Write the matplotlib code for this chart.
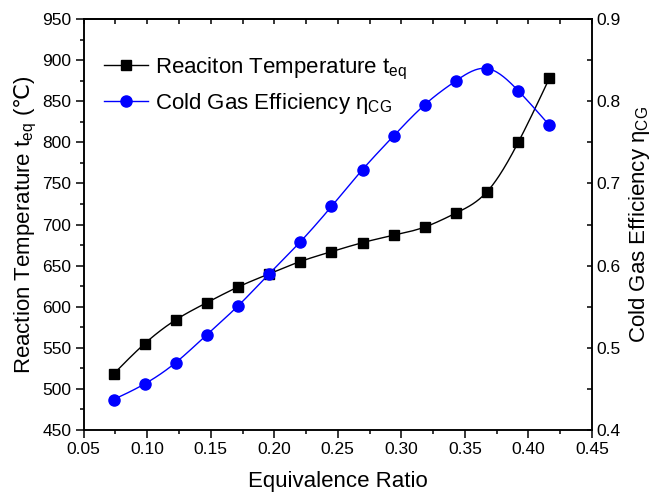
import numpy as np
import matplotlib
matplotlib.use('Agg')
import matplotlib.pyplot as plt
from matplotlib.ticker import MultipleLocator

plt.rcParams['font.family'] = ['Liberation Sans', 'DejaVu Sans']
plt.rcParams['mathtext.fontset'] = 'custom'
plt.rcParams['mathtext.rm'] = 'Liberation Sans'
plt.rcParams['mathtext.it'] = 'Liberation Sans'
plt.rcParams['mathtext.sf'] = 'DejaVu Sans'

# data
ratio = [0.0735, 0.098, 0.1225, 0.147, 0.1715, 0.196, 0.2205, 0.245,
         0.2695, 0.294, 0.3185, 0.343, 0.3675, 0.392, 0.4165]
temp = [518, 555, 584, 605, 624, 640, 655, 667, 678, 687, 697, 714, 740, 800, 878]
eff = [0.437, 0.456, 0.482, 0.516, 0.551, 0.590, 0.629, 0.672, 0.717,
       0.758, 0.796, 0.825, 0.840, 0.813, 0.771]


def spline(x, y, n=400):
    # natural cubic spline through the points, for the smooth connecting line
    x = np.asarray(x, float)
    y = np.asarray(y, float)
    k = len(x)
    h = np.diff(x)
    A = np.zeros((k, k))
    r = np.zeros(k)
    A[0, 0] = A[-1, -1] = 1
    for i in range(1, k - 1):
        A[i, i - 1] = h[i - 1]
        A[i, i] = 2 * (h[i - 1] + h[i])
        A[i, i + 1] = h[i]
        r[i] = 6 * ((y[i + 1] - y[i]) / h[i] - (y[i] - y[i - 1]) / h[i - 1])
    m = np.linalg.solve(A, r)
    xs = np.linspace(x[0], x[-1], n)
    idx = np.clip(np.searchsorted(x, xs) - 1, 0, k - 2)
    t = xs - x[idx]
    hi = h[idx]
    b = (y[idx + 1] - y[idx]) / hi - hi * (2 * m[idx] + m[idx + 1]) / 6
    ys = y[idx] + b * t + m[idx] / 2 * t ** 2 + (m[idx + 1] - m[idx]) / (6 * hi) * t ** 3
    return xs, ys


fig = plt.figure(figsize=(6.54, 4.93), dpi=100)
ax = fig.add_axes([0.128, 0.128, 0.777, 0.833])
ax2 = ax.twinx()

sx, sy = spline(ratio, temp)
ax.plot(sx, sy, color='black', lw=1)
ax.plot(ratio, temp, 's', color='black', ms=7)
h1, = ax.plot([], [], '-s', color='black', lw=1, ms=7)

ex, ey = spline(ratio, eff)
ax2.plot(ex, ey, color='blue', lw=1)
ax2.plot(ratio, eff, 'o', color='blue', ms=8)
h2, = ax2.plot([], [], '-o', color='blue', lw=1, ms=8)

ax.set_xlim(0.05, 0.45)
ax.set_ylim(450, 950)
ax2.set_ylim(0.4, 0.9)

ax.xaxis.set_major_locator(MultipleLocator(0.05))
ax.xaxis.set_minor_locator(MultipleLocator(0.025))
ax.yaxis.set_major_locator(MultipleLocator(50))
ax.yaxis.set_minor_locator(MultipleLocator(25))
ax2.yaxis.set_major_locator(MultipleLocator(0.1))
ax2.yaxis.set_minor_locator(MultipleLocator(0.05))
ax.xaxis.set_major_formatter(plt.FormatStrFormatter('%.2f'))
ax2.yaxis.set_major_formatter(plt.FuncFormatter(lambda v, p: '%g' % round(v, 2)))

ax.tick_params(which='both', direction='out', labelsize=12.5, width=1.1, right=False, top=False)
ax.tick_params(which='major', length=5.5)
ax.tick_params(which='minor', length=3)
ax2.tick_params(which='both', direction='in', labelsize=12.5, width=1.1, length=3.5)

top = ax.secondary_xaxis('top')
top.xaxis.set_major_locator(MultipleLocator(0.05))
top.xaxis.set_minor_locator(MultipleLocator(0.025))
top.tick_params(which='both', direction='in', length=3.5, width=1.1, labeltop=False)

for a in (ax, ax2):
    for s in a.spines.values():
        s.set_linewidth(1.1)
top.spines['top'].set_linewidth(1.1)

ax.set_xlabel('Equivalence Ratio', fontsize=16, labelpad=10)
ax.set_ylabel('Reaction Temperature $\\mathregular{t_{eq}}$ ($\\mathsf{℃}$)', fontsize=16, labelpad=2)
ax2.set_ylabel('Cold Gas Efficiency $\\mathregular{\\eta_{CG}}$', fontsize=16, labelpad=4)

ax.legend([h1, h2], ['Reaciton Temperature $\\mathregular{t_{eq}}$',
                     'Cold Gas Efficiency $\\mathregular{\\eta_{CG}}$'],
          loc='upper left', bbox_to_anchor=(0.0, 0.96), frameon=False,
          fontsize=16, handlelength=2.0, handletextpad=0.3, labelspacing=0.4)

fig.savefig('out.png', dpi=100)
